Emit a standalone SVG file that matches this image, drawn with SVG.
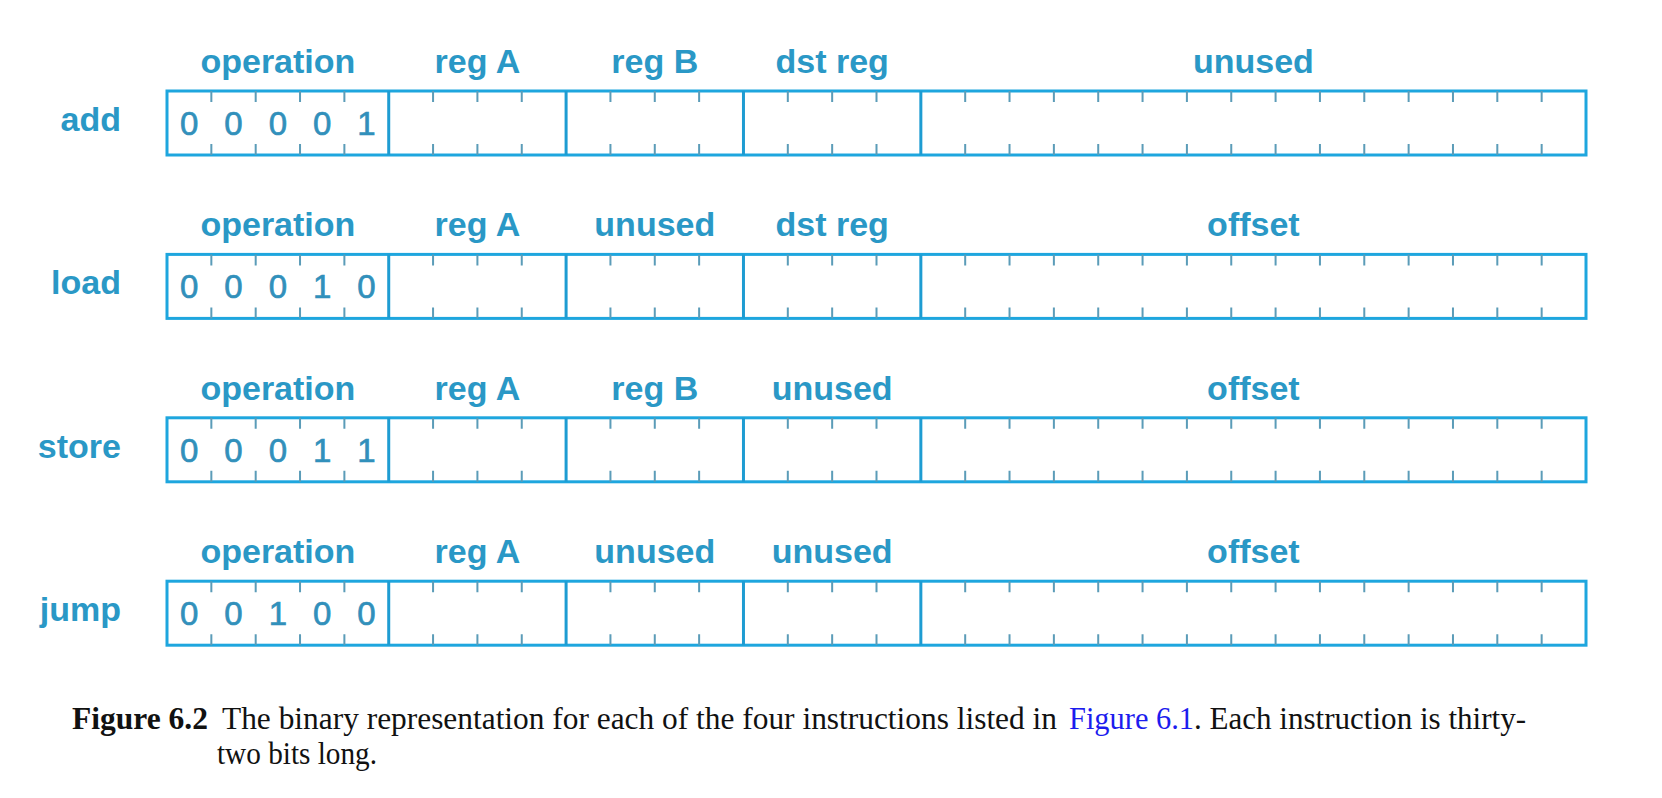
<svg xmlns="http://www.w3.org/2000/svg" xmlns:xlink="http://www.w3.org/1999/xlink" width="1662" height="798" viewBox="0 0 1662 798">
  <style>
    .box { fill: #ffffff; stroke: #1ea6de; stroke-width: 3; }
    .div { stroke: #1e9cd2; stroke-width: 3; fill: none; }
    .tick { stroke: #5b9cb8; stroke-width: 2; fill: none; }
    .lbl { font-family: "Liberation Sans", Arial, sans-serif; font-weight: bold; font-size: 34px; fill: #2a98c6; text-anchor: middle; }
    .row { font-family: "Liberation Sans", Arial, sans-serif; font-weight: bold; font-size: 34px; fill: #2a98c6; text-anchor: end; }
    .dig { font-family: "Liberation Sans", Arial, sans-serif; font-size: 33px; fill: #3190bb; stroke: #3190bb; stroke-width: 0.7; text-anchor: middle; }
    .cap { font-family: "Liberation Serif", "Times New Roman", serif; font-size: 31px; fill: #111111; }
  </style>
  <defs>
    <g id="frame">
      <rect class="box" x="167" y="0" width="1419" height="64"/>
      <path class="div" d="M388.72 0 V64 M566.09 0 V64 M743.47 0 V64 M920.84 0 V64"/>
      <path class="tick" d="M211.34 0 v11 M211.34 64 v-11 M255.69 0 v11 M255.69 64 v-11 M300.03 0 v11 M300.03 64 v-11 M344.38 0 v11 M344.38 64 v-11
        M433.06 0 v11 M433.06 64 v-11 M477.41 0 v11 M477.41 64 v-11 M521.75 0 v11 M521.75 64 v-11
        M610.44 0 v11 M610.44 64 v-11 M654.78 0 v11 M654.78 64 v-11 M699.13 0 v11 M699.13 64 v-11
        M787.81 0 v11 M787.81 64 v-11 M832.16 0 v11 M832.16 64 v-11 M876.5 0 v11 M876.5 64 v-11
        M965.19 0 v11 M965.19 64 v-11 M1009.53 0 v11 M1009.53 64 v-11 M1053.88 0 v11 M1053.88 64 v-11 M1098.22 0 v11 M1098.22 64 v-11
        M1142.56 0 v11 M1142.56 64 v-11 M1186.91 0 v11 M1186.91 64 v-11 M1231.25 0 v11 M1231.25 64 v-11 M1275.59 0 v11 M1275.59 64 v-11
        M1319.94 0 v11 M1319.94 64 v-11 M1364.28 0 v11 M1364.28 64 v-11 M1408.63 0 v11 M1408.63 64 v-11 M1452.97 0 v11 M1452.97 64 v-11
        M1497.31 0 v11 M1497.31 64 v-11 M1541.66 0 v11 M1541.66 64 v-11"/>
    </g>
  </defs>
  <rect x="0" y="0" width="1662" height="798" fill="#ffffff"/>

  <g id="add" transform="translate(0,91)">
    <use xlink:href="#frame"/>
    <text class="row" x="121" y="40">add</text>
    <text class="lbl" x="277.9" y="-18">operation</text>
    <text class="lbl" x="477.4" y="-18">reg A</text>
    <text class="lbl" x="654.8" y="-18">reg B</text>
    <text class="lbl" x="832.2" y="-18">dst reg</text>
    <text class="lbl" x="1253.4" y="-18">unused</text>
    <text class="dig" y="44"><tspan x="189.2">0</tspan><tspan x="233.5">0</tspan><tspan x="277.9">0</tspan><tspan x="322.2">0</tspan><tspan x="366.5">1</tspan></text>
  </g>

  <g id="load" transform="translate(0,254.4)">
    <use xlink:href="#frame"/>
    <text class="row" x="121" y="40">load</text>
    <text class="lbl" x="277.9" y="-18">operation</text>
    <text class="lbl" x="477.4" y="-18">reg A</text>
    <text class="lbl" x="654.8" y="-18">unused</text>
    <text class="lbl" x="832.2" y="-18">dst reg</text>
    <text class="lbl" x="1253.4" y="-18">offset</text>
    <text class="dig" y="44"><tspan x="189.2">0</tspan><tspan x="233.5">0</tspan><tspan x="277.9">0</tspan><tspan x="322.2">1</tspan><tspan x="366.5">0</tspan></text>
  </g>

  <g id="store" transform="translate(0,417.8)">
    <use xlink:href="#frame"/>
    <text class="row" x="121" y="40">store</text>
    <text class="lbl" x="277.9" y="-18">operation</text>
    <text class="lbl" x="477.4" y="-18">reg A</text>
    <text class="lbl" x="654.8" y="-18">reg B</text>
    <text class="lbl" x="832.2" y="-18">unused</text>
    <text class="lbl" x="1253.4" y="-18">offset</text>
    <text class="dig" y="44"><tspan x="189.2">0</tspan><tspan x="233.5">0</tspan><tspan x="277.9">0</tspan><tspan x="322.2">1</tspan><tspan x="366.5">1</tspan></text>
  </g>

  <g id="jump" transform="translate(0,581.2)">
    <use xlink:href="#frame"/>
    <text class="row" x="121" y="40">jump</text>
    <text class="lbl" x="277.9" y="-18">operation</text>
    <text class="lbl" x="477.4" y="-18">reg A</text>
    <text class="lbl" x="654.8" y="-18">unused</text>
    <text class="lbl" x="832.2" y="-18">unused</text>
    <text class="lbl" x="1253.4" y="-18">offset</text>
    <text class="dig" y="44"><tspan x="189.2">0</tspan><tspan x="233.5">0</tspan><tspan x="277.9">1</tspan><tspan x="322.2">0</tspan><tspan x="366.5">0</tspan></text>
  </g>

  <g id="caption">
    <text class="cap" x="72" y="729" font-weight="bold" textLength="136" lengthAdjust="spacingAndGlyphs">Figure 6.2</text>
    <text class="cap" x="222" y="729" textLength="835" lengthAdjust="spacingAndGlyphs">The binary representation for each of the four instructions listed in</text>
    <text class="cap" x="1069" y="729" style="fill:#1c1cee" textLength="125" lengthAdjust="spacingAndGlyphs">Figure 6.1</text>
    <text class="cap" x="1194" y="729" textLength="332" lengthAdjust="spacingAndGlyphs">. Each instruction is thirty-</text>
    <text class="cap" x="217" y="764" textLength="160" lengthAdjust="spacingAndGlyphs">two bits long.</text>
  </g>
</svg>
